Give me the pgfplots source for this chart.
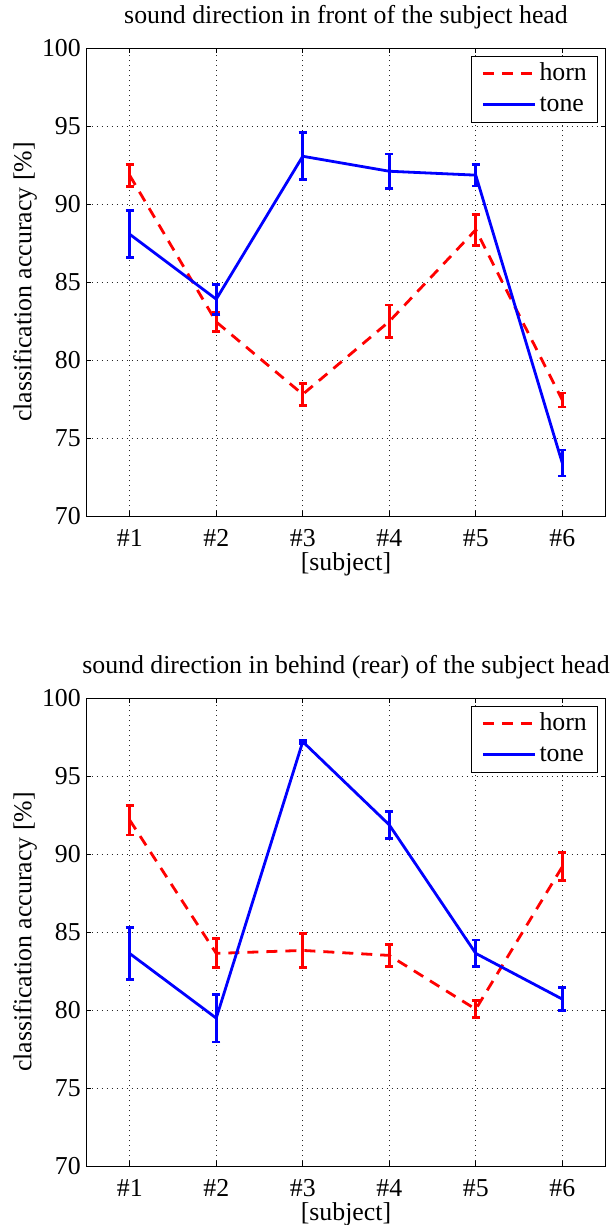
\documentclass[border=0pt]{standalone}
\usepackage{fontspec}
\setmainfont{Liberation Serif}
\usepackage{pgfplots}
\pgfplotsset{compat=1.18}
\usepackage{pgfplotstable}

\pgfplotstableread{
x y e
1 91.83 0.70
2 82.44 0.62
3 77.80 0.70
4 82.47 1.05
5 88.35 1.00
6 77.44 0.45
}\tophorn
\pgfplotstableread{
x y e
1 88.06 1.50
2 83.90 0.96
3 93.06 1.50
4 92.10 1.10
5 91.85 0.70
6 73.40 0.83
}\toptone
\pgfplotstableread{
x y e
1 92.17 0.95
2 83.63 0.93
3 83.82 1.10
4 83.50 0.72
5 80.05 0.55
6 89.18 0.90
}\bothorn
\pgfplotstableread{
x y e
1 83.62 1.67
2 79.48 1.53
3 97.20 0.10
4 91.87 0.87
5 83.63 0.86
6 80.70 0.75
}\bottone

\pgfplotsset{
  myaxis/.style={
    scale only axis, width=519bp, height=468bp,
    xmin=0.5, xmax=6.5, ymin=70, ymax=100,
    xtick={1,...,6}, xticklabels={\#1,\#2,\#3,\#4,\#5,\#6},
    ytick={70,75,...,100},
    grid=major,
    major grid style={black!85, line width=0.7bp, dash pattern=on 1bp off 4bp},
    axis line style={line width=0.9bp},
    every tick/.style={black, line width=0.9bp},
    major tick length=5bp,
    tick align=inside,
    font=\fontsize{25.9}{31}\selectfont,
    /pgf/number format/assume math mode=true,
    yticklabel style={anchor=east, inner sep=0pt, xshift=-5.5bp},
    xticklabel style={anchor=base, inner sep=0pt, yshift=-30bp},
    xlabel={[subject]},
    ylabel={classification accuracy [\%]},
    xlabel style={at={(axis description cs:0.5,-0.1165)}, anchor=base, inner sep=0pt},
    ylabel style={at={(axis description cs:-0.106,0.5)}, anchor=base, inner sep=0pt},
    title style={at={(axis description cs:0.5,1.0406)}, anchor=base, inner sep=0pt},
    legend style={at={(axis description cs:0.9846,0.9829)}, anchor=north east,
      draw=black, fill=white, inner xsep=7.5bp, inner ysep=3bp,
      row sep=2bp, nodes={inner sep=3bp, text height=18bp, text depth=5bp},
      cells={anchor=west},
      /tikz/every even column/.append style={column sep=9.5bp}},
    legend image code/.code={\path (0bp,0bp); \draw[##1] [line width=3.4bp] (2.5bp,0bp) -- (54.5bp,0bp);},
    no markers,
  },
  hornstyle/.style={red, line width=2.8bp, dash pattern=on 11bp off 8bp,
    error bars/y dir=both, error bars/y explicit,
    error bars/error bar style={solid, line width=2.8bp},
    error bars/error mark options={rotate=90, mark size=4.2bp, line width=2.8bp, solid, red}},
  tonestyle/.style={blue, line width=2.8bp, solid,
    error bars/y dir=both, error bars/y explicit,
    error bars/error bar style={solid, line width=2.8bp},
    error bars/error mark options={rotate=90, mark size=4.2bp, line width=2.8bp, solid, blue}},
}

\begin{document}
\begin{tikzpicture}
\useasboundingbox (0,0) rectangle (614bp,-1225bp);
\begin{axis}[myaxis, at={(86.5bp,-516bp)}, anchor=south west,
  title={sound direction in front of the subject head}]
  \addplot[hornstyle] table[x=x, y=y, y error=e] {\tophorn};
  \addlegendentry{horn}
  \addplot[tonestyle] table[x=x, y=y, y error=e] {\toptone};
  \addlegendentry{tone}
\end{axis}
\begin{axis}[myaxis, at={(86.5bp,-1166bp)}, anchor=south west,
  title={sound direction in behind (rear) of the subject head}]
  \addplot[hornstyle] table[x=x, y=y, y error=e] {\bothorn};
  \addlegendentry{horn}
  \addplot[tonestyle] table[x=x, y=y, y error=e] {\bottone};
  \addlegendentry{tone}
\end{axis}
\end{tikzpicture}
\end{document}
